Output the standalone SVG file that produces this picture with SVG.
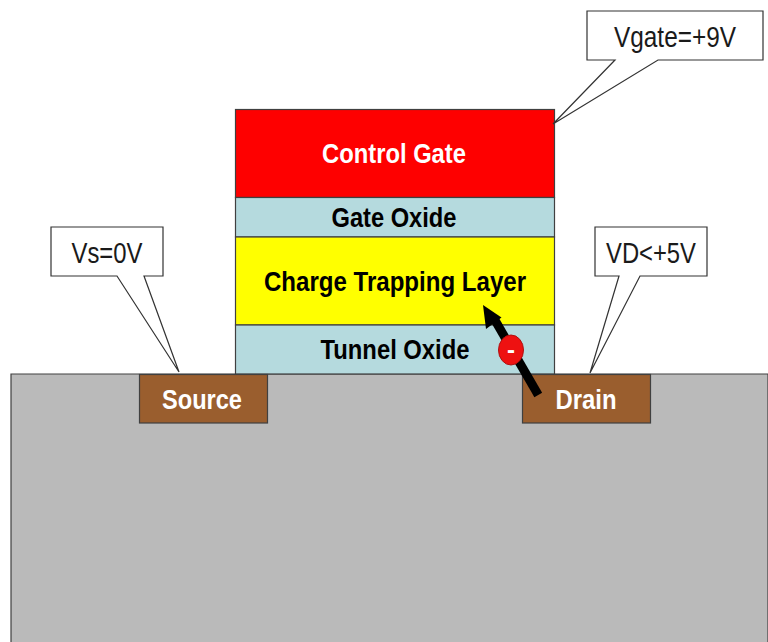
<svg xmlns="http://www.w3.org/2000/svg" width="768" height="642" viewBox="0 0 768 642">
<style>
.s{stroke:#404040;stroke-width:1.2}
.c{fill:#fff;stroke:#333;stroke-width:1.2;stroke-linejoin:miter}
text{font-family:"Liberation Sans",Arial,sans-serif;text-anchor:middle}
.b{font-weight:bold;font-size:27px}
.w{fill:#fff}
.k{fill:#000}
.n{fill:#1a1a1a;font-size:29px}
</style>
<rect width="768" height="642" fill="#fff"/>
<g id="substrate"><path d="M11 642V374H768V642" fill="#bababa" stroke="#404040" stroke-width="1.2"/></g>
<g id="control-gate"><rect class="s" x="235.500" y="109.500" width="319" height="88" fill="#fe0000"/><text class="b w" x="394" y="163" textLength="144" lengthAdjust="spacingAndGlyphs">Control Gate</text></g>
<g id="gate-oxide"><rect class="s" x="235.500" y="197.500" width="319" height="39.500" fill="#b5dade"/><text class="b k" x="394" y="227" textLength="125" lengthAdjust="spacingAndGlyphs">Gate Oxide</text></g>
<g id="charge-trapping-layer"><rect class="s" x="235.500" y="237" width="319" height="88" fill="#ffff00"/><text class="b k" x="395" y="291" textLength="262" lengthAdjust="spacingAndGlyphs">Charge Trapping Layer</text></g>
<g id="tunnel-oxide"><rect class="s" x="235.500" y="325" width="319" height="49" fill="#b5dade"/><text class="b k" x="395" y="359" textLength="149" lengthAdjust="spacingAndGlyphs">Tunnel Oxide</text></g>
<g id="source"><rect class="s" x="139.500" y="374.500" width="128" height="48.500" fill="#9a5e2e"/><text class="b w" x="202" y="409" textLength="80" lengthAdjust="spacingAndGlyphs">Source</text></g>
<g id="drain"><rect class="s" x="522.500" y="374.500" width="128" height="48.500" fill="#9a5e2e"/><text class="b w" x="586" y="409" textLength="61" lengthAdjust="spacingAndGlyphs">Drain</text></g>
<g id="connectors">
<line x1="536" y1="391" x2="496" y2="322" stroke="#000" stroke-width="9" stroke-linecap="square"/>
<path d="M483 305L501.500 317.500L486 329Z" fill="#000"/>
</g>
<g id="electron"><ellipse cx="511" cy="350" rx="12.500" ry="15" fill="#ee1111" stroke="#b01010" stroke-width="1"/><text x="511" y="358" fill="#fff" font-weight="bold" font-size="24">-</text></g>
<g id="callout-vgate"><path class="c" d="M587 11H763V60H658L553 124L615 60H587Z"/><text class="n" x="675" y="47" textLength="122" lengthAdjust="spacingAndGlyphs">Vgate=+9V</text></g>
<g id="callout-vs"><path class="c" d="M51 227H163V276H144L179 372L117 276H51Z"/><text class="n" x="107" y="263" textLength="71" lengthAdjust="spacingAndGlyphs">Vs=0V</text></g>
<g id="callout-vd"><path class="c" d="M595 227H707V276H640L590 373L619 276H595Z"/><text class="n" x="651" y="263" textLength="90" lengthAdjust="spacingAndGlyphs">VD&lt;+5V</text></g>
</svg>
